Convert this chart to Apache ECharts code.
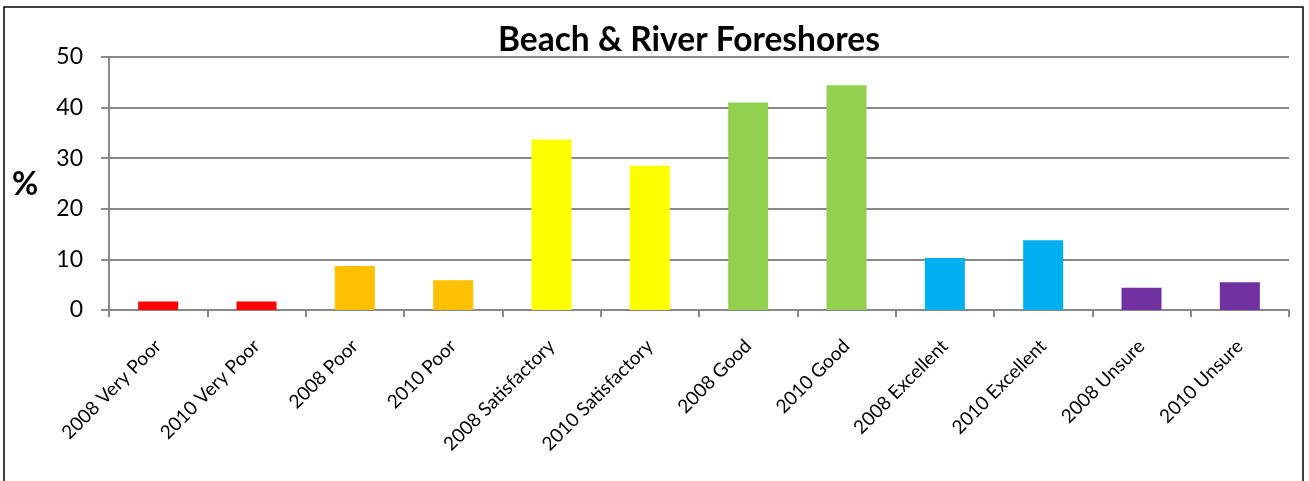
<!DOCTYPE html>
<html><head><meta charset="utf-8">
<script src="https://cdn.jsdelivr.net/npm/echarts@6/dist/echarts.min.js"></script>
<style>html,body{margin:0;padding:0;background:#fff}#c{width:1309px;height:481px}</style>
</head><body><div id="c"></div>
<script>
var categories = ["2008 Very Poor","2010 Very Poor","2008 Poor","2010 Poor","2008 Satisfactory","2010 Satisfactory","2008 Good","2010 Good","2008 Excellent","2010 Excellent","2008 Unsure","2010 Unsure"];
var values = [1.7,1.7,8.7,5.9,33.7,28.5,41.0,44.4,10.3,13.8,4.4,5.5];
var barColors = ["#FF0000","#FF0000","#FFC000","#FFC000","#FFFF00","#FFFF00","#92D050","#92D050","#00B0F0","#00B0F0","#7030A0","#7030A0"];
var yTicks = [0,10,20,30,40,50];

var chart = echarts.init(document.getElementById('c'));
var font = 'Lato, "Open Sans", sans-serif';
chart.setOption({
  animation:false,
  title:{text:"Beach & River Foreshores",left:493,top:18,textStyle:{fontFamily:font,fontWeight:'bold',fontSize:33.5,color:'#000'}},
  graphic:[
    {type:'rect',shape:{x:4,y:7,width:1299,height:500},style:{fill:'none',stroke:'#000',lineWidth:1.5},silent:true},
    {type:'text',left:12,top:169,style:{text:'%',font:'bold 32px '+font,fill:'#000'}}
  ],
  grid:{left:109,right:20,top:57,bottom:171,containLabel:false},
  xAxis:{type:'category',data:categories,
    axisLine:{lineStyle:{color:'#898989',width:2}},
    axisTick:{show:true,alignWithLabel:false,length:7,lineStyle:{color:'#898989',width:2}},
    axisLabel:{rotate:45,interval:0,margin:33,fontFamily:font,fontSize:19,color:'#000'}},
  yAxis:{type:'value',min:0,max:50,interval:10,
    axisLine:{show:true,lineStyle:{color:'#898989',width:2}},
    axisTick:{show:true,length:8,lineStyle:{color:'#898989',width:2}},
    splitLine:{lineStyle:{color:'#898989',width:2}},
    axisLabel:{margin:26,fontFamily:font,fontSize:23,color:'#000',
      formatter:function(v){return yTicks.indexOf(v)>=0?String(v):'';}}},
  series:[{type:'bar',barWidth:40,
    data:values.map(function(v,i){return {value:v,itemStyle:{color:barColors[i]}};})}]
});
</script></body></html>
